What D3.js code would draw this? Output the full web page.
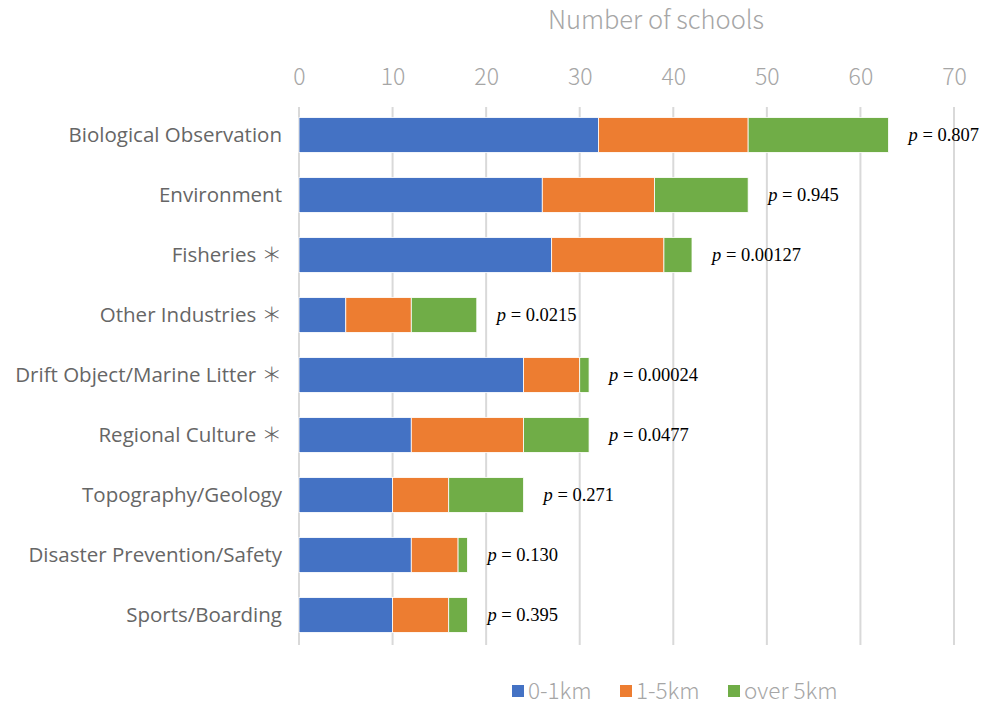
<!DOCTYPE html>
<html>
<head>
<meta charset="utf-8">
<script src="https://cdn.jsdelivr.net/npm/d3@7"></script>
<style>
  body { margin: 0; background: #fff; }
  svg { display: block; }
</style>
</head>
<body>
<svg id="chart" width="984" height="704"></svg>
<script>
// Topics studied, with the number of schools by distance from the sea
const categories = [
  "Biological Observation",
  "Environment",
  "Fisheries＊",
  "Other Industries＊",
  "Drift Object/Marine Litter＊",
  "Regional Culture＊",
  "Topography/Geology",
  "Disaster Prevention/Safety",
  "Sports/Boarding"
];
const near = [32, 26, 27, 5, 24, 12, 10, 12, 10];      // 0-1km
const middle = [16, 12, 12, 7, 6, 12, 6, 5, 6];        // 1-5km
const far = [15, 10, 3, 7, 1, 7, 8, 1, 2];             // over 5km
const pValues = ["0.807", "0.945", "0.00127", "0.0215", "0.00024", "0.0477", "0.271", "0.130", "0.395"];
const seriesNames = ["0-1km", "1-5km", "over 5km"];
const seriesColors = ["#4472C4", "#ED7D31", "#70AD47"];
const xTicks = [0, 10, 20, 30, 40, 50, 60, 70];

const rows = categories.map((c, i) => ({ cat: c, "0-1km": near[i], "1-5km": middle[i], "over 5km": far[i], p: pValues[i] }));

const svg = d3.select("#chart");
const x = d3.scaleLinear().domain([0, 70]).range([299, 954]);
const y = d3.scaleBand().domain(categories).range([105, 645]).paddingInner(0.42).paddingOuter(0.21);

const tickFont = "'Noto Sans CJK JP', 'Noto Sans', sans-serif";

// Axis title
svg.append("text")
  .attr("x", 656).attr("y", 29)
  .attr("text-anchor", "middle")
  .attr("font-family", tickFont).attr("font-weight", 300)
  .attr("font-size", 25.5).attr("fill", "#a6a6a6")
  .text("Number of schools");

// Top axis with gridlines
const xAxis = d3.axisTop(x).tickValues(xTicks).tickSize(0).tickPadding(0);
const gx = svg.append("g").attr("transform", "translate(0,85)").call(xAxis);
gx.select(".domain").remove();
gx.selectAll("text")
  .attr("font-family", tickFont).attr("font-weight", 300)
  .attr("font-size", 23).attr("fill", "#a6a6a6");

svg.append("g").selectAll("line").data(xTicks).join("line")
  .attr("x1", d => x(d)).attr("x2", d => x(d))
  .attr("y1", 107).attr("y2", 645)
  .attr("stroke", "#d9d9d9").attr("stroke-width", 2);

// Category axis; the asterisk marking significant topics is set in a CJK face
const yAxis = d3.axisLeft(y).tickSize(0).tickPadding(17).tickFormat(() => "");
const gy = svg.append("g").attr("transform", `translate(${x(0)},0)`).call(yAxis);
gy.select(".domain").remove();
gy.selectAll("text")
  .attr("font-family", "'Open Sans', 'Noto Sans', sans-serif")
  .attr("font-size", 20.5).attr("fill", "#666")
  .each(function (d) {
    const t = d3.select(this);
    const star = d.endsWith("＊");
    t.append("tspan").text(star ? d.slice(0, -1) + " " : d);
    if (star) t.append("tspan").attr("font-family", "'Noto Sans CJK JP'").attr("font-weight", 300).text("＊");
  });

// Stacked bars
const stack = d3.stack().keys(seriesNames)(rows);
svg.append("g").selectAll("g").data(stack).join("g")
  .attr("fill", (d, i) => seriesColors[i])
  .selectAll("rect").data(d => d).join("rect")
  .attr("x", d => x(d[0]))
  .attr("width", d => x(d[1]) - x(d[0]))
  .attr("y", d => y(d.data.cat))
  .attr("height", y.bandwidth())
  .attr("stroke", "#fff").attr("stroke-width", 0.8);

// p-value labels
const labels = svg.append("g").selectAll("text").data(rows).join("text")
  .attr("x", d => x(d["0-1km"] + d["1-5km"] + d["over 5km"]) + 20)
  .attr("y", d => y(d.cat) + y.bandwidth() / 2)
  .attr("dy", "0.35em")
  .attr("font-family", "'Liberation Serif', 'Times New Roman', serif")
  .attr("font-size", 18.5).attr("fill", "#000");
labels.append("tspan").attr("font-style", "italic").text("p");
labels.append("tspan").text(d => " = " + d.p);

// Legend
const legendX = [512, 620, 728];
const lg = svg.append("g").selectAll("g").data(seriesNames).join("g")
  .attr("transform", (d, i) => `translate(${legendX[i]},685)`);
lg.append("rect").attr("width", 12).attr("height", 12).attr("fill", (d, i) => seriesColors[i]);
lg.append("text").attr("x", 16).attr("y", 6).attr("dy", "0.35em")
  .attr("font-family", tickFont).attr("font-weight", 300)
  .attr("font-size", 22.5).attr("fill", "#a6a6a6")
  .text(d => d);
</script>
</body>
</html>
